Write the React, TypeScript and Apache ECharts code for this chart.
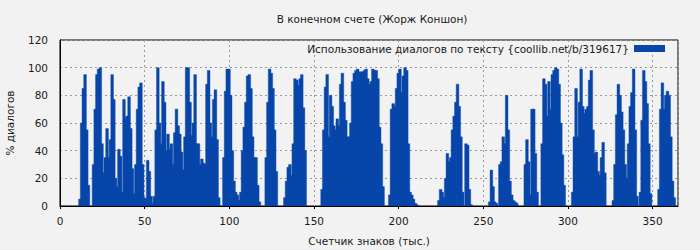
import React, { useEffect, useRef } from "react";
import * as echarts from "echarts";

const TITLE = "В конечном счете (Жорж Коншон)";
const SERIES_NAME = "Использование диалогов по тексту {coollib.net/b/319617}";
const X_NAME = "Счетчик знаков (тыс.)";
const Y_NAME = "% диалогов";

// Percentage of dialogue per thousand characters, x = 0 .. 364
const usage0to99 = [
  0, 0, 0, 0, 0, 0, 0, 0, 0, 0,
  0, 5, 60, 85, 95, 55, 15, 0, 0, 30,
  70, 95, 99, 100, 45, 24, 35, 56, 35, 48,
  95, 77, 20, 14, 41, 36, 10, 77, 64, 65,
  79, 56, 27, 9, 30, 70, 86, 89, 30, 6,
  5, 33, 25, 7, 2, 7, 55, 100, 60, 45,
  90, 75, 40, 52, 41, 45, 30, 53, 70, 58,
  52, 39, 26, 50, 100, 100, 75, 51, 60, 95,
  45, 45, 30, 34, 31, 30, 88, 98, 60, 50,
  77, 84, 48, 6, 0, 0, 35, 83, 99, 99,
];
const usage100to199 = [
  80, 40, 18, 10, 8, 4, 10, 40, 57, 75,
  94, 95, 85, 50, 35, 35, 15, 3, 0, 0,
  0, 35, 75, 99, 96, 85, 55, 25, 0, 0,
  0, 0, 6, 18, 28, 30, 22, 45, 92, 91,
  87, 92, 95, 71, 40, 0, 0, 0, 0, 0,
  0, 0, 0, 0, 12, 55, 86, 95, 50, 80,
  72, 58, 55, 63, 58, 88, 96, 75, 62, 50,
  50, 60, 90, 96, 98, 99, 97, 97, 97, 98,
  99, 92, 88, 90, 99, 98, 98, 92, 57, 45,
  14, 0, 0, 0, 8, 70, 74, 72, 85, 96,
];
const usage200to299 = [
  99, 82, 94, 100, 98, 45, 10, 8, 5, 2,
  1, 0, 0, 0, 0, 0, 0, 0, 0, 0,
  0, 0, 0, 4, 12, 10, 6, 20, 38, 32,
  35, 55, 65, 75, 88, 72, 50, 10, 0, 45,
  44, 12, 1, 0, 0, 0, 0, 0, 0, 0,
  0, 0, 0, 3, 26, 14, 3, 2, 0, 30,
  32, 50, 45, 80, 55, 18, 8, 4, 3, 2,
  0, 0, 0, 0, 30, 48, 32, 8, 70, 70,
  38, 10, 0, 0, 45, 92, 88, 65, 90, 70,
  95, 98, 100, 99, 88, 60, 37, 15, 0, 0,
];
const usage300to364 = [
  0, 0, 10, 50, 85, 50, 75, 99, 72, 67,
  70, 72, 91, 98, 55, 38, 39, 25, 22, 35,
  46, 24, 0, 0, 0, 0, 4, 30, 66, 88,
  80, 68, 55, 30, 20, 45, 72, 82, 99, 55,
  7, 0, 10, 62, 98, 90, 74, 45, 9, 0,
  0, 0, 0, 12, 70, 89, 70, 80, 83, 80,
  50, 18, 6, 0, 0,
];

const usage = [...usage0to99, ...usage100to199, ...usage200to299, ...usage300to364];
const X_MAX = 365;
const Y_MAX = 120;

const FONT = "DejaVu Sans";
const FS = 10.5;
const TEXT = "#1a1a1a";
const BLUE = "#0846aa";

export default function App() {
  const ref = useRef<HTMLDivElement>(null);

  useEffect(() => {
    if (!ref.current) return;
    const chart = echarts.init(ref.current, undefined, { renderer: "svg" });
    // each bar spans [x, x + 1) thousand characters
    const data = usage.map((v, i) => [i, v]);
    chart.setOption({
      animation: false,
      backgroundColor: "#f2f2f2",
      textStyle: { fontFamily: FONT, color: TEXT },
      title: {
        text: TITLE,
        left: 367,
        top: 8,
        textAlign: "center",
        textStyle: { fontFamily: FONT, fontSize: FS, fontWeight: "normal", color: TEXT },
      },
      legend: {
        show: true,
        right: 30,
        top: 38,
        align: "right",
        itemWidth: 31,
        itemHeight: 7,
        itemGap: 10,
        icon: "rect",
        textStyle: { fontFamily: FONT, fontSize: FS, color: TEXT, padding: [0, 0, 0, 0] },
        data: [{ name: SERIES_NAME, itemStyle: { color: BLUE } }],
      },
      grid: {
        left: 60,
        right: 22,
        top: 40,
        bottom: 44,
        show: true,
        borderColor: "#000",
        borderWidth: 1,
        backgroundColor: "transparent",
        containLabel: false,
        outerBoundsMode: "none",
      },
      xAxis: {
        type: "value",
        min: 0,
        max: X_MAX,
        interval: 50,
        name: X_NAME,
        nameLocation: "middle",
        nameGap: 29,
        nameTextStyle: { fontFamily: FONT, fontSize: FS, color: TEXT },
        axisLine: { show: true, lineStyle: { color: "#000", width: 1 } },
        axisTick: { show: true, length: 3, lineStyle: { color: "#000" } },
        axisLabel: {
          fontFamily: FONT,
          fontSize: FS,
          color: TEXT,
          margin: 9,
          showMaxLabel: false,
        },
        splitLine: {
          show: true,
          lineStyle: { color: "#999", type: [2, 3], width: 1 },
        },
      },
      yAxis: {
        type: "value",
        min: 0,
        max: Y_MAX,
        interval: 20,
        name: Y_NAME,
        nameLocation: "middle",
        nameGap: 45,
        nameRotate: 90,
        nameTextStyle: { fontFamily: FONT, fontSize: FS, color: TEXT },
        axisLine: { show: true, lineStyle: { color: "#000", width: 1 } },
        axisTick: { show: false },
        axisLabel: { fontFamily: FONT, fontSize: FS, color: TEXT, margin: 12 },
        splitLine: {
          show: true,
          lineStyle: { color: "#999", type: [2, 3], width: 1 },
        },
      },
      series: [
        {
          name: SERIES_NAME,
          type: "custom",
          data,
          clip: true,
          itemStyle: { color: BLUE },
          encode: { x: 0, y: 1 },
          renderItem: (params: any, api: any) => {
            const x = api.value(0);
            const v = api.value(1);
            if (!v) return null;
            const top = api.coord([x, v]);
            const base = api.coord([x + 1, 0]);
            return {
              type: "rect",
              shape: {
                x: top[0],
                y: top[1],
                width: base[0] - top[0] + 1,
                height: base[1] - top[1],
              },
              style: { fill: BLUE, stroke: BLUE, lineWidth: 0.4 },
            };
          },
        },
      ],
    });
    return () => chart.dispose();
  }, []);

  return (
    <div
      ref={ref}
      style={{ position: "fixed", left: 0, top: 0, width: 700, height: 250 }}
    />
  );
}
